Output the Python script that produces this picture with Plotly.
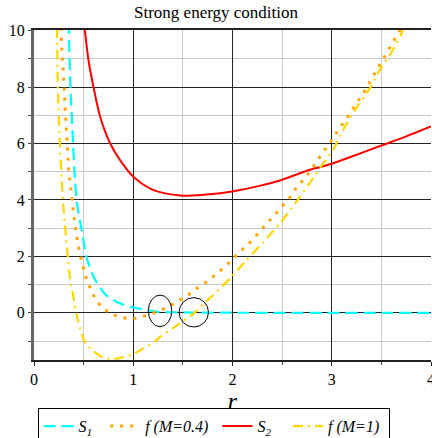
import plotly.graph_objects as go

# ---- data ----
s1_x = [0.345, 0.35, 0.367, 0.394, 0.407, 0.434, 0.477, 0.528, 0.585, 0.618,
        0.685, 0.735, 0.869, 1.003, 1.138, 1.24, 1.4, 1.6, 2.0, 2.5, 3.0, 3.5, 4.0]
s1_y = [10.3, 10.0, 8.0, 6.0, 5.04, 3.85, 3.0, 2.0, 1.4, 1.16,
        0.80, 0.60, 0.33, 0.19, 0.10, 0.04, 0.02, 0.01, 0.005, 0.0, 0.0, 0.0, 0.0]

f04_x = [0.27, 0.30, 0.334, 0.35, 0.377, 0.417, 0.457, 0.517, 0.561, 0.611, 0.678, 0.779,
         0.893, 1.01, 1.124, 1.24, 1.35, 1.45, 1.556, 1.653, 1.75, 1.84, 1.93, 2.015,
         2.10, 2.19, 2.27, 2.35, 2.43, 2.51, 2.59, 2.65, 2.73, 2.806, 2.87, 2.94, 3.01,
         3.07, 3.14, 3.21, 3.27, 3.34, 3.40, 3.46, 3.52, 3.58, 3.64, 3.70]
f04_y = [10.1, 8.0, 6.0, 5.05, 4.22, 2.98, 2.16, 1.32, 0.92, 0.54, 0.21, -0.05,
         -0.18, -0.20, -0.10, 0.04, 0.21, 0.41, 0.64, 0.90, 1.12, 1.39, 1.65, 1.96,
         2.25, 2.54, 2.86, 3.17, 3.49, 3.82, 4.13, 4.48, 4.77, 5.14, 5.49, 5.83, 6.16,
         6.51, 6.84, 7.20, 7.55, 7.90, 8.28, 8.64, 8.99, 9.37, 9.73, 10.1]

s2_x = [0.511, 0.55, 0.60, 0.668, 0.769, 0.869, 1.003, 1.171, 1.30, 1.472, 1.55, 1.74,
        2.01, 2.25, 2.48, 2.78, 2.88, 3.0, 3.25, 3.5, 3.75, 4.0]
s2_y = [10.05, 8.93, 7.99, 6.93, 5.99, 5.40, 4.81, 4.40, 4.25, 4.16, 4.15, 4.19,
        4.31, 4.48, 4.69, 5.07, 5.16, 5.28, 5.60, 5.93, 6.25, 6.60]

f1_x = [0.232, 0.24, 0.26, 0.275, 0.293, 0.315, 0.334, 0.367, 0.394, 0.434, 0.51, 0.585,
        0.695, 0.77, 0.85, 1.003, 1.10, 1.22, 1.27, 1.41, 1.62, 1.71, 1.807, 1.975,
        2.14, 2.31, 2.48, 2.63, 2.76, 2.91, 3.01, 3.11, 3.23, 3.38, 3.48, 3.60, 3.70, 3.72]
f1_y = [10.1, 8.0, 6.0, 5.0, 3.9, 3.0, 2.22, 1.10, 0.63, -0.14, -1.02, -1.32,
        -1.58, -1.63, -1.61, -1.46, -1.26, -1.02, -0.85, -0.52, 0.01, 0.33, 0.63, 1.22,
        1.86, 2.51, 3.18, 3.87, 4.51, 5.28, 5.75, 6.46, 7.16, 7.93, 8.58, 9.22, 9.87, 10.08]

series_names = ["<i>S<sub>1</sub></i>&nbsp;&nbsp;", "<i>f (M=0.4)</i>&nbsp;",
                "<i>S<sub>2</sub></i>&nbsp;&nbsp;&nbsp;", "<i>f (M=1)</i>&nbsp;"]

# highlighted zero crossings (centre x, centre y, half-width, half-height)
mark_cx = [1.27, 1.61]
mark_cy = [0.07, 0.02]
mark_rx = [0.118, 0.148]
mark_ry = [0.56, 0.52]

FONT = "Liberation Serif, Times New Roman, serif"

fig = go.Figure()
fig.add_trace(go.Scatter(x=s1_x, y=s1_y, mode="lines", name=series_names[0],
                         line=dict(color="#00FFFF", width=2.2, dash="12px,6px", shape="spline",
                                   smoothing=0.6)))
fig.add_trace(go.Scatter(x=f04_x, y=f04_y, mode="lines", name=series_names[1],
                         line=dict(color="#FFA500", width=3, dash="3px,7px")))
fig.add_trace(go.Scatter(x=s2_x, y=s2_y, mode="lines", name=series_names[2],
                         line=dict(color="#FF0000", width=2, shape="spline", smoothing=0.8)))
fig.add_trace(go.Scatter(x=f1_x, y=f1_y, mode="lines", name=series_names[3],
                         line=dict(color="#FFD700", width=2.2, dash="10px,5px,2px,5px",
                                   shape="spline", smoothing=0.6)))

for cx, cy, rx, ry in zip(mark_cx, mark_cy, mark_rx, mark_ry):
    fig.add_shape(type="circle", xref="x", yref="y",
                  x0=cx - rx, x1=cx + rx, y0=cy - ry, y1=cy + ry,
                  line=dict(color="black", width=1))

fig.update_layout(
    width=432, height=438,
    margin=dict(l=33.5, r=0.5, t=29.5, b=78, autoexpand=False),
    paper_bgcolor="white", plot_bgcolor="white",
    font=dict(family=FONT, size=16, color="black"),
    title=dict(text="Strong energy condition", x=0.5, xanchor="center",
               y=1 - 12 / 438, yanchor="middle", font=dict(family=FONT, size=17)),
    showlegend=True,
    legend=dict(orientation="h", x=0.009, xanchor="left", y=-0.146, yanchor="top",
                bordercolor="black", borderwidth=1, bgcolor="white",
                font=dict(family=FONT, size=16), itemwidth=30,
                tracegroupgap=0),
)
fig.update_xaxes(range=[0, 4], dtick=1, tick0=0, showgrid=True, gridcolor="#222",
                 gridwidth=1, zeroline=False, showline=True, linecolor="#222",
                 linewidth=2, mirror=True, ticks="outside", ticklen=4, tickcolor="#222",
                 ticklabeloverflow="allow",
                 minor=dict(dtick=0.5, showgrid=True, gridcolor="#c8c8c8", gridwidth=1,
                            ticks="outside", ticklen=3, tickcolor="#444"),
                 title=dict(text="<i>r</i>", font=dict(family=FONT, size=24), standoff=0),
                 tickfont=dict(family=FONT, size=16))
fig.update_yaxes(range=[-1.67, 10.02], dtick=2, tick0=0, showgrid=True, gridcolor="#222",
                 gridwidth=1, zeroline=False, showline=True, linecolor="#666",
                 linewidth=3, ticks="outside", ticklen=3, tickcolor="#444",
                 ticklabeloverflow="allow",
                 minor=dict(dtick=1, showgrid=True, gridcolor="#c8c8c8", gridwidth=1,
                            ticks="outside", ticklen=3, tickcolor="#444"),
                 tickfont=dict(family=FONT, size=16))

fig.write_html("out.html")
